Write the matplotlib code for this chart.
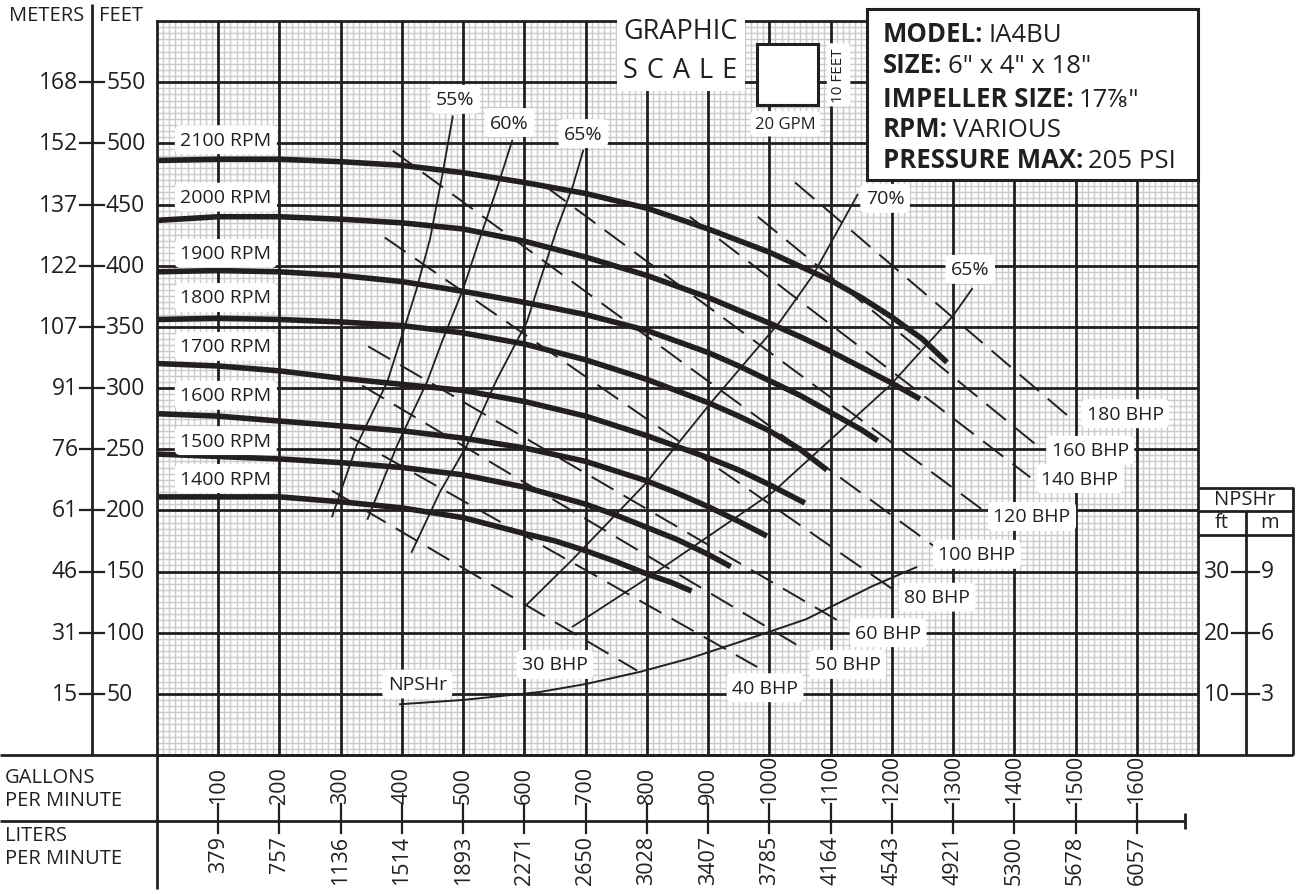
import matplotlib
matplotlib.use('Agg')
import matplotlib.pyplot as plt
import numpy as np
from matplotlib.patches import Rectangle

plt.rcParams['font.family'] = ['Open Sans', 'DejaVu Sans']
INK = '#231f20'
GRID = '#cbcbcb'

# ---------------- data ----------------
rpm_names = ['2100 RPM', '2000 RPM', '1900 RPM', '1800 RPM',
             '1700 RPM', '1600 RPM', '1500 RPM', '1400 RPM']
rpm_label_head = [503, 456, 410, 374, 334, 294, 257, 226]

gpm_2100 = [0, 100, 200, 300, 400, 500, 600, 700, 800, 900, 1000, 1100, 1150, 1200, 1250, 1290]
head_2100 = [486, 487, 487, 485, 482, 476, 468, 459, 447, 430, 411, 388, 374, 358, 340, 321]
gpm_2000 = [0, 100, 200, 300, 400, 500, 600, 700, 800, 900, 1000, 1050, 1100, 1150, 1200, 1246]
head_2000 = [437, 440, 440, 438, 435, 430, 420, 407, 392, 374, 353, 342, 330, 317, 304, 291]
gpm_1900 = [0, 100, 200, 300, 400, 500, 600, 700, 800, 900, 950, 1000, 1050, 1100, 1150, 1177]
head_1900 = [395, 396, 395, 392, 387, 379, 370, 360, 347, 329, 318, 306, 294, 280, 266, 257]
gpm_1800 = [0, 100, 200, 300, 400, 500, 600, 700, 800, 900, 950, 1000, 1050, 1094]
head_1800 = [356, 357, 356, 354, 351, 345, 336, 323, 307, 288, 277, 265, 250, 233]
gpm_1700 = [0, 100, 200, 300, 400, 500, 600, 700, 800, 900, 950, 1000, 1058]
head_1700 = [320, 318, 314, 308, 303, 298, 289, 277, 261, 243, 233, 221, 206]
gpm_1600 = [0, 100, 200, 300, 400, 500, 600, 700, 800, 850, 900, 950, 996]
head_1600 = [279, 277, 273, 269, 265, 259, 251, 240, 224, 214, 203, 191, 179]
gpm_1500 = [0, 100, 200, 300, 400, 500, 600, 700, 750, 800, 850, 900, 937]
head_1500 = [246, 244, 242, 239, 235, 229, 219, 205, 196, 186, 176, 164, 154]
gpm_1400 = [0, 100, 200, 300, 400, 500, 600, 650, 700, 750, 800, 840, 873]
head_1400 = [211, 211, 211, 207, 202, 194, 181, 175, 167, 158, 148, 141, 134]

eff_names = ['55%', '60%', '65%', '70%', '65%']
eff_label_gpm = [487, 576, 696, 1189, 1328]
eff_label_head = [536, 517, 508, 455, 397]
gpm_eff55 = [286, 326, 376, 402, 424, 446, 467, 483]
head_eff55 = [195, 253, 305, 346, 381, 422, 477, 522]
gpm_eff60 = [344, 392, 441, 467, 500, 527, 555, 580]
head_eff60 = [193, 253, 305, 340, 381, 422, 463, 502]
gpm_eff65 = [416, 462, 506, 555, 604, 625, 653, 679, 696]
head_eff65 = [166, 215, 253, 307, 354, 387, 430, 465, 494]
gpm_eff70 = [604, 679, 800, 903, 1017, 1071, 1144]
head_eff70 = [123, 160, 223, 287, 354, 392, 458]
gpm_eff65b = [679, 805, 1006, 1197, 1300, 1331]
head_eff65b = [105, 146, 215, 302, 359, 381]

bhp_values = [30, 40, 50, 60, 80, 100, 120, 140, 160, 180]
bhp_gpm_start = [286, 315, 335, 345, 372, 385, 634, 870, 981, 1042]
bhp_head_start = [216, 260, 302, 334, 423, 494, 465, 440, 440, 468]
bhp_gpm_end = [784, 980, 1055, 1115, 1200, 1279, 1352, 1426, 1437, 1488]
bhp_head_end = [69, 72, 87, 109, 136, 167, 199, 227, 253, 277]
bhp_label_gpm = [650, 993, 1128, 1194, 1274, 1339, 1429, 1507, 1524, 1581]
bhp_label_head = [74, 55, 74, 100, 129, 164, 195, 226, 249, 279]

npsh_gpm = [397, 500, 625, 700, 789, 870, 952, 1060, 1168, 1240]
npsh_ft = [8.3, 9.0, 10.3, 11.6, 13.6, 15.8, 18.5, 22.2, 27.6, 30.7]

gpm_ticks = [100, 200, 300, 400, 500, 600, 700, 800, 900, 1000,
             1100, 1200, 1300, 1400, 1500, 1600]
lpm_labels = ['379', '757', '1136', '1514', '1893', '2271', '2650', '3028',
              '3407', '3785', '4164', '4543', '4921', '5300', '5678', '6057']
feet_ticks = [550, 500, 450, 400, 350, 300, 250, 200, 150, 100, 50]
meter_labels = ['168', '152', '137', '122', '107', '91', '76', '61', '46', '31', '15']
npsh_ft_ticks = [30, 20, 10]
npsh_m_labels = ['9', '6', '3']

info_bold = ['MODEL:', 'SIZE:', 'IMPELLER SIZE:', 'RPM:', 'PRESSURE MAX:']
info_value = ['IA4BU', '6" x 4" x 18"', '17\u215e"', 'VARIOUS', '205 PSI']

# ---------------- layout ----------------
W, H = 1296, 895
L, R, T, B = 157, 1198, 22, 756

fig = plt.figure(figsize=(W / 100, H / 100), dpi=100)
ax = fig.add_axes([L / W, 1 - B / H, (R - L) / W, (B - T) / H])
ax.set_xlim(0, 1700)
ax.set_ylim(0, 600)
ax.set_xticks([])
ax.set_yticks([])
for s in ax.spines.values():
    s.set_linewidth(2.0)
    s.set_color(INK)


def fx(px):
    return (px - L) / (R - L)


def fy(py):
    return (B - py) / (B - T)


# grid
ax.vlines(np.arange(10, 1700, 10), 0, 600, color=GRID, lw=1.0, zorder=1)
ax.hlines(np.arange(5, 600, 5), 0, 1700, color=GRID, lw=1.0, zorder=1)
ax.vlines(np.arange(100, 1700, 100), 0, 600, color=INK, lw=2.0, zorder=1.5)
ax.hlines(np.arange(50, 600, 50), 0, 1700, color=INK, lw=2.0, zorder=1.5)

label_box = dict(boxstyle='round,pad=0.28', fc='white', ec='none')

# head curves
curves = [(gpm_2100, head_2100), (gpm_2000, head_2000), (gpm_1900, head_1900),
          (gpm_1800, head_1800), (gpm_1700, head_1700), (gpm_1600, head_1600),
          (gpm_1500, head_1500), (gpm_1400, head_1400)]
for (g, h), name, lh in zip(curves, rpm_names, rpm_label_head):
    ax.plot(g, h, color=INK, lw=4.0, solid_capstyle='butt',
            solid_joinstyle='round', zorder=4)
    ax.text(38, lh, name, fontsize=14, color=INK, ha='left', va='center',
            bbox=label_box, zorder=6)

# efficiency curves
effs = [(gpm_eff55, head_eff55), (gpm_eff60, head_eff60), (gpm_eff65, head_eff65),
        (gpm_eff70, head_eff70), (gpm_eff65b, head_eff65b)]
for (g, h), name, lg, lh in zip(effs, eff_names, eff_label_gpm, eff_label_head):
    ax.plot(g, h, color=INK, lw=1.3, zorder=3)
    ax.text(lg, lh, name, fontsize=14, color=INK, ha='center', va='center',
            bbox=label_box, zorder=6)

# BHP lines
for i, v in enumerate(bhp_values):
    ax.plot([bhp_gpm_start[i], bhp_gpm_end[i]], [bhp_head_start[i], bhp_head_end[i]],
            color=INK, lw=1.4, ls=(0, (13, 6)), zorder=3)
    ax.text(bhp_label_gpm[i], bhp_label_head[i], f'{v} BHP', fontsize=14, color=INK,
            ha='center', va='center', bbox=label_box, zorder=6)

# NPSHr on its own scale (right panel)
ax2 = ax.twinx()
ax2.set_ylim(0, 120)
ax2.set_yticks([])
ax2.axis('off')
ax2.plot(npsh_gpm, npsh_ft, color=INK, lw=1.4, zorder=3)
ax.text(425, 58, 'NPSHr', fontsize=14, color=INK, ha='center', va='center',
        bbox=label_box, zorder=6)

# graphic scale
ax.add_patch(Rectangle((980, 531), 100, 50, fc='white', ec=INK, lw=2.2, zorder=6))
ax.text(855, 576, 'GRAPHIC\nS\u2004C\u2004A\u2004L\u2004E', fontsize=19.5, color=INK,
        ha='center', va='center', linespacing=1.55,
        bbox=dict(boxstyle='square,pad=0.25', fc='white', ec='none'), zorder=6)
ax.text(1026, 516, '20 GPM', fontsize=12, color=INK, ha='center', va='center',
        bbox=label_box, zorder=6)
ax.text(1113, 556, '10 FEET', fontsize=11, color=INK, ha='center', va='center',
        rotation=90, bbox=label_box, zorder=6)

# bottom scales (GPM / LPM)
xt = ax.get_xaxis_transform()
for g, lpm in zip(gpm_ticks, lpm_labels):
    ax.text(g, fy(804), str(g), transform=xt, rotation=90, fontsize=15.5, color=INK,
            ha='center', va='bottom', clip_on=False)
    ax.plot([g, g], [fy(805), fy(834)], transform=xt, color=INK, lw=1.6, clip_on=False)
    ax.text(g, fy(836), lpm, transform=xt, rotation=90, fontsize=15.5, color=INK,
            ha='center', va='top', clip_on=False)

# left scales (meters / feet)
yt = ax.get_yaxis_transform()
for ft, m in zip(feet_ticks, meter_labels):
    ax.plot([fx(80), fx(104)], [ft, ft], transform=yt, color=INK, lw=1.6, clip_on=False)
    ax.text(fx(78), ft, m, transform=yt, fontsize=16.5, color=INK, ha='right',
            va='center', clip_on=False)
    ax.text(fx(106), ft, str(ft), transform=yt, fontsize=16.5, color=INK, ha='left',
            va='center', clip_on=False)

# right NPSHr scale
yt2 = ax2.get_yaxis_transform()
for v, m in zip(npsh_ft_ticks, npsh_m_labels):
    ax2.plot([fx(1232), fx(1259)], [v, v], transform=yt2, color=INK, lw=1.6, clip_on=False)
    ax2.text(fx(1230), v, str(v), transform=yt2, fontsize=16.5, color=INK, ha='right',
             va='center', clip_on=False)
    ax2.text(fx(1261), v, m, transform=yt2, fontsize=16.5, color=INK, ha='left',
             va='center', clip_on=False)

# ---------------- frame decorations in pixel space ----------------
deco = fig.add_axes([0, 0, 1, 1], zorder=10)
deco.set_xlim(0, W)
deco.set_ylim(H, 0)
deco.axis('off')
deco.patch.set_alpha(0)

kw = dict(color=INK, lw=2.0, solid_capstyle='butt')
deco.plot([92, 92], [5, B], **kw)
deco.plot([0, 1293], [B, B], **kw)
deco.plot([0, 1185], [822, 822], **kw)
deco.plot([L, L], [B, 890], **kw)
deco.plot([1185, 1185], [814, 830], **kw)
deco.text(84, 16, 'METERS', fontsize=14.5, color=INK, ha='right', va='center')
deco.text(99, 16, 'FEET', fontsize=14.5, color=INK, ha='left', va='center')
deco.text(5, 778, 'GALLONS', fontsize=14.5, color=INK, ha='left', va='center')
deco.text(5, 801, 'PER MINUTE', fontsize=14.5, color=INK, ha='left', va='center')
deco.text(5, 836, 'LITERS', fontsize=14.5, color=INK, ha='left', va='center')
deco.text(5, 859, 'PER MINUTE', fontsize=14.5, color=INK, ha='left', va='center')

# NPSHr panel
deco.plot([R, 1293, 1293], [489, 489, B], **kw)
deco.plot([R, 1293], [512, 512], **kw)
deco.plot([R, 1293], [536, 536], **kw)
deco.plot([1246, 1246], [512, B], **kw)
deco.text(1245, 500, 'NPSHr', fontsize=14.5, color=INK, ha='center', va='center')
deco.text(1222, 523, 'ft', fontsize=14.5, color=INK, ha='center', va='center')
deco.text(1270, 523, 'm', fontsize=14.5, color=INK, ha='center', va='center')

# info box
deco.add_patch(Rectangle((867, 10), 331, 171, fc='white', ec=INK, lw=2.2))
renderer = fig.canvas.get_renderer()
baselines = [42, 73, 107, 137, 168]
for b, n, yb in zip(info_bold, info_value, baselines):
    t = deco.text(883, yb, b, fontsize=18.5, fontweight='bold', color=INK,
                  ha='left', va='baseline')
    bb = t.get_window_extent(renderer=renderer)
    x1 = deco.transData.inverted().transform((bb.x1, bb.y0))[0]
    deco.text(x1 + 5, yb, n, fontsize=18.5, color=INK, ha='left', va='baseline')

fig.savefig('out.png', dpi=100, facecolor='white')
